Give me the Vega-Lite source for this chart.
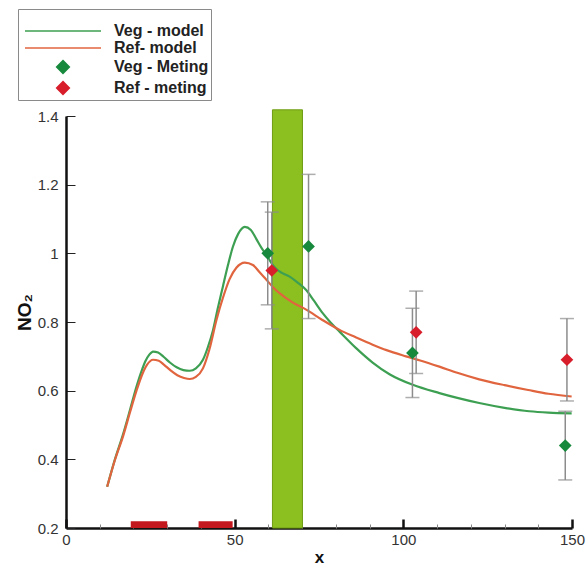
{
  "$schema": "https://vega.github.io/schema/vega-lite/v6.json",
  "width": 506,
  "height": 412,
  "autosize": {"type": "none"},
  "padding": {"left": 66, "top": 116, "right": 16, "bottom": 40},
  "background": "white",
  "config": {
    "view": {"stroke": null},
    "font": "Liberation Sans",
    "legend": {
      "orient": "none",
      "legendX": -48,
      "legendY": -107,
      "strokeColor": "#8a8a8a",
      "strokeWidth": 1,
      "padding": 2,
      "labelFont": "Liberation Sans",
      "labelFontSize": 16,
      "labelFontWeight": "bold",
      "labelColor": "#222222",
      "labelOffset": 43,
      "symbolOffset": 35,
      "symbolSize": 100,
      "rowPadding": 1,
      "titleFontSize": 12,
      "titlePadding": 0
    }
  },
  "resolve": {"axis": {"x": "independent"}},
  "datasets": {
    "curves": [
      {"series": "Veg - model", "x": 12.2, "y": 0.32},
      {"series": "Veg - model", "x": 14.5, "y": 0.40},
      {"series": "Veg - model", "x": 17, "y": 0.476},
      {"series": "Veg - model", "x": 19, "y": 0.545},
      {"series": "Veg - model", "x": 20.9, "y": 0.612},
      {"series": "Veg - model", "x": 22.5, "y": 0.66},
      {"series": "Veg - model", "x": 23.6, "y": 0.687},
      {"series": "Veg - model", "x": 24.7, "y": 0.705},
      {"series": "Veg - model", "x": 25.8, "y": 0.714},
      {"series": "Veg - model", "x": 27.3, "y": 0.711},
      {"series": "Veg - model", "x": 29, "y": 0.698},
      {"series": "Veg - model", "x": 30.8, "y": 0.682},
      {"series": "Veg - model", "x": 32.8, "y": 0.668},
      {"series": "Veg - model", "x": 34.8, "y": 0.66},
      {"series": "Veg - model", "x": 36.7, "y": 0.658},
      {"series": "Veg - model", "x": 38.5, "y": 0.665},
      {"series": "Veg - model", "x": 40.6, "y": 0.69},
      {"series": "Veg - model", "x": 42, "y": 0.725},
      {"series": "Veg - model", "x": 43.6, "y": 0.777},
      {"series": "Veg - model", "x": 45, "y": 0.84},
      {"series": "Veg - model", "x": 46.5, "y": 0.903},
      {"series": "Veg - model", "x": 48, "y": 0.965},
      {"series": "Veg - model", "x": 49.5, "y": 1.02},
      {"series": "Veg - model", "x": 51, "y": 1.056},
      {"series": "Veg - model", "x": 53, "y": 1.077},
      {"series": "Veg - model", "x": 54.8, "y": 1.068},
      {"series": "Veg - model", "x": 56.4, "y": 1.042},
      {"series": "Veg - model", "x": 58, "y": 1.015},
      {"series": "Veg - model", "x": 59.4, "y": 0.996},
      {"series": "Veg - model", "x": 61, "y": 0.97},
      {"series": "Veg - model", "x": 62.3, "y": 0.955},
      {"series": "Veg - model", "x": 64, "y": 0.943},
      {"series": "Veg - model", "x": 66.3, "y": 0.932},
      {"series": "Veg - model", "x": 68.5, "y": 0.916},
      {"series": "Veg - model", "x": 71.2, "y": 0.893},
      {"series": "Veg - model", "x": 73.5, "y": 0.862},
      {"series": "Veg - model", "x": 76.1, "y": 0.826},
      {"series": "Veg - model", "x": 78.5, "y": 0.798},
      {"series": "Veg - model", "x": 81.1, "y": 0.772},
      {"series": "Veg - model", "x": 86, "y": 0.724},
      {"series": "Veg - model", "x": 90.9, "y": 0.682},
      {"series": "Veg - model", "x": 95.9, "y": 0.648},
      {"series": "Veg - model", "x": 102.8, "y": 0.617},
      {"series": "Veg - model", "x": 110.7, "y": 0.593},
      {"series": "Veg - model", "x": 116, "y": 0.579},
      {"series": "Veg - model", "x": 122.5, "y": 0.564},
      {"series": "Veg - model", "x": 130, "y": 0.55},
      {"series": "Veg - model", "x": 137.3, "y": 0.54},
      {"series": "Veg - model", "x": 143, "y": 0.536},
      {"series": "Veg - model", "x": 149.9, "y": 0.534},
      {"series": "Ref- model", "x": 12.2, "y": 0.32},
      {"series": "Ref- model", "x": 14.5, "y": 0.398},
      {"series": "Ref- model", "x": 17, "y": 0.47},
      {"series": "Ref- model", "x": 19, "y": 0.538},
      {"series": "Ref- model", "x": 20.9, "y": 0.6},
      {"series": "Ref- model", "x": 22.5, "y": 0.645},
      {"series": "Ref- model", "x": 24, "y": 0.675},
      {"series": "Ref- model", "x": 25.8, "y": 0.69},
      {"series": "Ref- model", "x": 27.5, "y": 0.687},
      {"series": "Ref- model", "x": 29, "y": 0.676},
      {"series": "Ref- model", "x": 31, "y": 0.659},
      {"series": "Ref- model", "x": 33, "y": 0.645},
      {"series": "Ref- model", "x": 35, "y": 0.637},
      {"series": "Ref- model", "x": 36.7, "y": 0.634},
      {"series": "Ref- model", "x": 38.5, "y": 0.64},
      {"series": "Ref- model", "x": 40.6, "y": 0.665},
      {"series": "Ref- model", "x": 42.5, "y": 0.72},
      {"series": "Ref- model", "x": 44.6, "y": 0.806},
      {"series": "Ref- model", "x": 46.5, "y": 0.87},
      {"series": "Ref- model", "x": 48.5, "y": 0.925},
      {"series": "Ref- model", "x": 50.5, "y": 0.958},
      {"series": "Ref- model", "x": 53, "y": 0.973},
      {"series": "Ref- model", "x": 55.4, "y": 0.966},
      {"series": "Ref- model", "x": 57.4, "y": 0.945},
      {"series": "Ref- model", "x": 59.4, "y": 0.923},
      {"series": "Ref- model", "x": 61.5, "y": 0.9},
      {"series": "Ref- model", "x": 63.3, "y": 0.884},
      {"series": "Ref- model", "x": 67, "y": 0.858},
      {"series": "Ref- model", "x": 71.2, "y": 0.836},
      {"series": "Ref- model", "x": 76, "y": 0.806},
      {"series": "Ref- model", "x": 81.1, "y": 0.777},
      {"series": "Ref- model", "x": 86, "y": 0.755},
      {"series": "Ref- model", "x": 90.9, "y": 0.734},
      {"series": "Ref- model", "x": 95, "y": 0.718},
      {"series": "Ref- model", "x": 100.8, "y": 0.70},
      {"series": "Ref- model", "x": 105, "y": 0.688},
      {"series": "Ref- model", "x": 110.7, "y": 0.67},
      {"series": "Ref- model", "x": 116, "y": 0.652},
      {"series": "Ref- model", "x": 122.5, "y": 0.633},
      {"series": "Ref- model", "x": 130, "y": 0.616},
      {"series": "Ref- model", "x": 137, "y": 0.602},
      {"series": "Ref- model", "x": 143, "y": 0.591},
      {"series": "Ref- model", "x": 149.9, "y": 0.583}
    ],
    "meas": [
      {"series": "Veg - Meting", "x": 59.8, "y": 1.0, "lo": 0.85, "hi": 1.15},
      {"series": "Veg - Meting", "x": 71.9, "y": 1.02, "lo": 0.81, "hi": 1.23},
      {"series": "Veg - Meting", "x": 102.7, "y": 0.71, "lo": 0.58, "hi": 0.84},
      {"series": "Veg - Meting", "x": 148, "y": 0.44, "lo": 0.34, "hi": 0.54},
      {"series": "Ref - meting", "x": 61, "y": 0.95, "lo": 0.78, "hi": 1.12},
      {"series": "Ref - meting", "x": 103.8, "y": 0.77, "lo": 0.65, "hi": 0.89},
      {"series": "Ref - meting", "x": 148.5, "y": 0.69, "lo": 0.57, "hi": 0.81}
    ],
    "greenband": [
      {"x": 61.2, "x2": 70.1, "y": 0.2, "y2": 1.418}
    ],
    "redbands": [
      {"x": 19.2, "x2": 30, "y": 0.2, "y2": 0.22},
      {"x": 39.3, "x2": 49.4, "y": 0.2, "y2": 0.22}
    ]
  },
  "layer": [
    {
      "data": {"name": "greenband"},
      "mark": {"type": "rect", "fill": "#8cbf20", "stroke": "#6f9c14", "strokeWidth": 1, "clip": false},
      "encoding": {
        "x": {"field": "x", "type": "quantitative", "scale": {"domain": [0, 150], "nice": false, "zero": false},
          "axis": {
            "orient": "bottom",
            "values": [0, 50, 100, 150],
            "format": "d",
            "title": "x",
            "titleFont": "Liberation Sans",
            "titleFontSize": 17,
            "titleFontWeight": "bold",
            "titleColor": "#111111",
            "titlePadding": 2,
            "labelFont": "Liberation Sans",
            "labelFontSize": 15,
            "labelColor": "#333333",
            "labelPadding": 13,
            "labelOverlap": false,
            "labelFlush": false,
            "grid": false,
            "domainColor": "#111111",
            "domainWidth": 2.5,
            "tickSize": -9,
            "tickWidth": 2.5,
            "tickColor": "#111111"
          }
        },
        "x2": {"field": "x2"},
        "y": {"field": "y", "type": "quantitative", "scale": {"domain": [0.2, 1.4], "nice": false, "zero": false},
          "axis": {
            "values": [0.2, 0.25, 0.3, 0.35, 0.4, 0.45, 0.5, 0.55, 0.6, 0.65, 0.7, 0.75, 0.8, 0.85, 0.9, 0.95, 1.0, 1.05, 1.1, 1.15, 1.2, 1.25, 1.3, 1.35, 1.4],
            "labelExpr": "abs(datum.value*5 - round(datum.value*5)) < 0.001 ? format(datum.value, '~g') : ''",
            "title": "NO₂",
            "titleFont": "Liberation Sans",
            "titleFontSize": 19,
            "titleFontWeight": "bold",
            "titleColor": "#111111",
            "titlePadding": 3,
            "titleY": 196,
            "labelFont": "Liberation Sans",
            "labelFontSize": 15,
            "labelColor": "#333333",
            "labelPadding": 17,
            "labelOverlap": false,
            "labelFlush": false,
            "grid": false,
            "domainColor": "#111111",
            "domainWidth": 2.5,
            "tickSize": -9,
            "tickColor": "#222222",
            "encode": {"ticks": {"update": {
              "x2": {"signal": "abs(datum.value*5 - round(datum.value*5)) < 0.001 ? 9 : 4"},
              "strokeWidth": {"signal": "abs(datum.value*5 - round(datum.value*5)) < 0.001 ? 2.5 : 1"},
              "stroke": {"signal": "abs(datum.value*5 - round(datum.value*5)) < 0.001 ? '#111111' : '#888888'"}
            }}}
          }
        },
        "y2": {"field": "y2"}
      }
    },
    {
      "data": {"name": "redbands"},
      "mark": {"type": "rect", "fill": "#c4181f", "clip": false},
      "encoding": {
        "x": {"field": "x", "type": "quantitative",
          "axis": {
            "orient": "bottom",
            "values": [10, 20, 30, 40, 60, 70, 80, 90, 110, 120, 130, 140],
            "labels": false,
            "domain": false,
            "grid": false,
            "title": null,
            "tickSize": -4,
            "tickWidth": 1,
            "tickColor": "#888888"
          }
        },
        "x2": {"field": "x2"},
        "y": {"field": "y", "type": "quantitative"},
        "y2": {"field": "y2"}
      }
    },
    {
      "data": {"name": "curves"},
      "mark": {"type": "line", "strokeWidth": 2.2, "interpolate": "monotone", "clip": false},
      "encoding": {
        "x": {"field": "x", "type": "quantitative", "axis": null},
        "y": {"field": "y", "type": "quantitative"},
        "color": {
          "field": "series", "type": "nominal",
          "scale": {"domain": ["Veg - model", "Ref- model", "Veg - Meting", "Ref - meting"], "range": ["#3d9f52", "#e0653f", "#17893d", "#d81d2b"]},
          "legend": {"title": " "}
        }
      }
    },
    {
      "data": {"name": "meas"},
      "mark": {"type": "rule", "color": "#8c8c8c", "strokeWidth": 1.5, "clip": false},
      "encoding": {
        "x": {"field": "x", "type": "quantitative", "axis": null},
        "y": {"field": "lo", "type": "quantitative"},
        "y2": {"field": "hi"}
      }
    },
    {
      "data": {"name": "meas"},
      "mark": {"type": "tick", "orient": "horizontal", "color": "#8c8c8c", "size": 14, "thickness": 1.5, "clip": false},
      "encoding": {
        "x": {"field": "x", "type": "quantitative", "axis": null},
        "y": {"field": "lo", "type": "quantitative"}
      }
    },
    {
      "data": {"name": "meas"},
      "mark": {"type": "tick", "orient": "horizontal", "color": "#8c8c8c", "size": 14, "thickness": 1.5, "clip": false},
      "encoding": {
        "x": {"field": "x", "type": "quantitative", "axis": null},
        "y": {"field": "hi", "type": "quantitative"}
      }
    },
    {
      "data": {"name": "meas"},
      "mark": {"type": "point", "filled": true, "size": 100, "opacity": 1, "clip": false},
      "encoding": {
        "x": {"field": "x", "type": "quantitative", "axis": null},
        "y": {"field": "y", "type": "quantitative"},
        "color": {
          "field": "series", "type": "nominal",
          "scale": {"domain": ["Veg - model", "Ref- model", "Veg - Meting", "Ref - meting"], "range": ["#3d9f52", "#e0653f", "#17893d", "#d81d2b"]},
          "legend": {"title": " "}
        },
        "shape": {
          "field": "series", "type": "nominal",
          "scale": {"domain": ["Veg - model", "Ref- model", "Veg - Meting", "Ref - meting"], "range": ["M-7.6,0H7.6", "M-7.6,0H7.6", "M0,-1.27L1.27,0L0,1.27L-1.27,0Z", "M0,-1.27L1.27,0L0,1.27L-1.27,0Z"]},
          "legend": {"title": " "}
        }
      }
    }
  ]
}
